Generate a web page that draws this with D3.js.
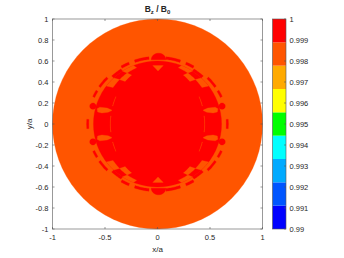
<!DOCTYPE html>
<html>
<head>
<meta charset="utf-8">
<script src="https://cdn.jsdelivr.net/npm/d3@7"></script>
<style>
body { margin: 0; background: #fff; }
text { font-family: "Liberation Sans", Arial, sans-serif; fill: #262626; }
</style>
</head>
<body>
<script>
// ---- data ----
var xTicks = [-1, -0.5, 0, 0.5, 1];
var yTicks = [-1, -0.8, -0.6, -0.4, -0.2, 0, 0.2, 0.4, 0.6, 0.8, 1];
var cbarTicks = [0.99, 0.991, 0.992, 0.993, 0.994, 0.995, 0.996, 0.997, 0.998, 0.999, 1];
var levelColors = ['#0000ff', '#0055ff', '#00aaff', '#00ffff', '#00ff00',
                   '#ffff00', '#ffaa00', '#ff5500', '#ff0000'];

// field value of each region
var valOuter = 0.9985;
var valInner = 0.9995;

// regions, in x/a , y/a units. ellipses are [rx, ry]
var diskR = 1;
var innerEllipse = [0.45, 0.555];
var midEllipse = [0.53, 0.578];
var ringEllipse = [0.61, 0.60];
var bumpEllipse = [0.64, 0.625];
// checker cells (upper-left quadrant, angle from top in degrees), mirrored 4 ways
var orangeInnerRow = [[33, 43]];
var orangeOuterRow = [[22, 33], [43, 53]];
var redBumps = [[33, 43]];
// dashed ring outside the red ring
var dashRing = [[0.655, 0.62], [0.675, 0.645]];
var dashArcs = [[7, 19], [24, 31], [46, 56], [60, 66], [86, 90]];
// orange dashes on the inner ellipse edge
var innerDashRing = [[0.435, 0.545], [0.45, 0.555]];
var innerDashArcs = [[62, 72], [82, 90]];
// orange tongues and red knobs on the sides (upper-left copy)
var tongue = [[-0.43, 0.13], [-0.48, 0.152], [-0.55, 0.16], [-0.575, 0.145],
              [-0.57, 0.115], [-0.53, 0.105], [-0.47, 0.112]];
var knob = [-0.615, 0.17, 0.03];
// top dome and notch (upper copy, mirrored in y)
var dome = [0.01, 0.612, 0.07, 0.062];
var notch = [[-0.045, 0.556], [0.055, 0.556], [0.005, 0.505]];

// ---- drawing ----
var W = 344, H = 258;
var svg = d3.select('body').append('svg').attr('width', W).attr('height', H);

var x = d3.scaleLinear().domain([-1, 1]).range([52.5, 262.5]);
var y = d3.scaleLinear().domain([-1, 1]).range([229, 19]);
var color = d3.scaleQuantize().domain([0.99, 1]).range(levelColors);
var line = d3.line().x(function(d) { return x(d[0]); }).y(function(d) { return y(d[1]); }).curve(d3.curveLinearClosed);

function rad(a) { return a * Math.PI / 180; }

// ring cell between two ellipses, angles from top in upper-left quadrant
function cell(eA, eB, p0, p1) {
  var pts = [], n = 12, i, p;
  for (i = 0; i <= n; i++) {
    p = rad(p0 + (p1 - p0) * i / n);
    pts.push([-eA[0] * Math.sin(p), eA[1] * Math.cos(p)]);
  }
  for (i = n; i >= 0; i--) {
    p = rad(p0 + (p1 - p0) * i / n);
    pts.push([-eB[0] * Math.sin(p), eB[1] * Math.cos(p)]);
  }
  return pts;
}
function mirror4(pts) {
  return [pts,
    pts.map(function(d) { return [-d[0], d[1]]; }),
    pts.map(function(d) { return [d[0], -d[1]]; }),
    pts.map(function(d) { return [-d[0], -d[1]]; })];
}
function ellipsePts(cx, cy, rx, ry) {
  var pts = [];
  for (var i = 0; i < 72; i++) {
    var a = rad(i * 5);
    pts.push([cx + rx * Math.cos(a), cy + ry * Math.sin(a)]);
  }
  return pts;
}
function drawPolys(list, val) {
  svg.append('g').selectAll('path').data(list).join('path')
    .attr('d', line)
    .attr('fill', color(val))
    .attr('stroke', color(val))
    .attr('stroke-width', 0.3);
}

// disk
drawPolys([ellipsePts(0, 0, diskR, diskR)], valOuter);
// red ring and inner ellipse
drawPolys([ellipsePts(0, 0, ringEllipse[0], ringEllipse[1])], valInner);
// checker cut-outs
var cutouts = [];
orangeInnerRow.forEach(function(a) { cutouts = cutouts.concat(mirror4(cell(innerEllipse, midEllipse, a[0], a[1]))); });
orangeOuterRow.forEach(function(a) { cutouts = cutouts.concat(mirror4(cell(midEllipse, ringEllipse, a[0], a[1]))); });
innerDashArcs.forEach(function(a) { cutouts = cutouts.concat(mirror4(cell(innerDashRing[0], innerDashRing[1], a[0], a[1]))); });
cutouts = cutouts.concat(mirror4(tongue));
drawPolys(cutouts, valOuter);
// red inner core on top of checker
drawPolys([ellipsePts(0, 0, innerEllipse[0] - 0.005, innerEllipse[1] - 0.005)], valInner);
// red dashes, bumps, knobs, domes
var reds = [];
dashArcs.forEach(function(a) { reds = reds.concat(mirror4(cell(dashRing[0], dashRing[1], a[0], a[1]))); });
redBumps.forEach(function(a) { reds = reds.concat(mirror4(cell(ringEllipse, bumpEllipse, a[0], a[1]))); });
reds = reds.concat(mirror4(ellipsePts(knob[0], knob[1], knob[2], knob[2])));
var domePts = [];
for (var i = 0; i <= 18; i++) {
  var a = rad(i * 10);
  domePts.push([dome[0] + dome[2] * Math.cos(a), dome[1] + dome[3] * Math.sin(a)]);
}
reds.push(domePts, domePts.map(function(d) { return [d[0], -d[1]]; }));
drawPolys(reds, valInner);
drawPolys([notch, notch.map(function(d) { return [d[0], -d[1]]; })], valOuter);

// axes box
var axisCol = '#555';
svg.append('rect')
  .attr('x', x(-1)).attr('y', y(1))
  .attr('width', x(1) - x(-1)).attr('height', y(-1) - y(1))
  .attr('fill', 'none').attr('stroke', axisCol).attr('stroke-width', 0.6);

svg.append('g').selectAll('line').data(xTicks).join('line')
  .attr('x1', function(d) { return x(d); }).attr('x2', function(d) { return x(d); })
  .attr('y1', y(-1)).attr('y2', y(-1) - 2).attr('stroke', axisCol).attr('stroke-width', 0.6);
svg.append('g').selectAll('line').data(xTicks).join('line')
  .attr('x1', function(d) { return x(d); }).attr('x2', function(d) { return x(d); })
  .attr('y1', y(1)).attr('y2', y(1) + 2).attr('stroke', axisCol).attr('stroke-width', 0.6);
svg.append('g').selectAll('line').data(yTicks).join('line')
  .attr('y1', function(d) { return y(d); }).attr('y2', function(d) { return y(d); })
  .attr('x1', x(-1)).attr('x2', x(-1) + 2).attr('stroke', axisCol).attr('stroke-width', 0.6);
svg.append('g').selectAll('line').data(yTicks).join('line')
  .attr('y1', function(d) { return y(d); }).attr('y2', function(d) { return y(d); })
  .attr('x1', x(1)).attr('x2', x(1) - 2).attr('stroke', axisCol).attr('stroke-width', 0.6);

svg.append('g').selectAll('text').data(xTicks).join('text')
  .attr('x', function(d) { return x(d); }).attr('y', 240)
  .attr('text-anchor', 'middle').attr('font-size', 7.5)
  .text(function(d) { return d; });
svg.append('g').selectAll('text').data(yTicks).join('text')
  .attr('x', 48.5).attr('y', function(d) { return y(d) + 2.6; })
  .attr('text-anchor', 'end').attr('font-size', 7.5)
  .text(function(d) { return d; });

svg.append('text').attr('x', x(0)).attr('y', 252)
  .attr('text-anchor', 'middle').attr('font-size', 8).text('x/a');
svg.append('text').attr('transform', 'translate(32,' + y(0) + ') rotate(-90)')
  .attr('text-anchor', 'middle').attr('font-size', 8).text('y/a');

// title
var title = svg.append('text').attr('x', x(0)).attr('y', 12)
  .attr('text-anchor', 'middle').attr('font-size', 8.5).attr('font-weight', 'bold');
title.append('tspan').text('B');
title.append('tspan').attr('font-size', 6).attr('dy', 1.8).text('z');
title.append('tspan').attr('dy', -1.8).text(' / B');
title.append('tspan').attr('font-size', 6).attr('dy', 1.8).text('0');

// colorbar
var cy = d3.scaleLinear().domain([0.99, 1]).range([229, 19]);
var cbX = 272.5, cbW = 13.5;
var step = (1 - 0.99) / levelColors.length;
svg.append('g').selectAll('rect').data(levelColors).join('rect')
  .attr('x', cbX).attr('width', cbW)
  .attr('y', function(d, i) { return cy(0.99 + step * (i + 1)); })
  .attr('height', function(d, i) { return cy(0.99 + step * i) - cy(0.99 + step * (i + 1)); })
  .attr('fill', function(d) { return d; });
svg.append('rect').attr('x', cbX).attr('y', cy(1)).attr('width', cbW).attr('height', cy(0.99) - cy(1))
  .attr('fill', 'none').attr('stroke', axisCol).attr('stroke-width', 0.6);
svg.append('g').selectAll('line').data(cbarTicks).join('line')
  .attr('x1', cbX + cbW).attr('x2', cbX + cbW - 2)
  .attr('y1', function(d) { return cy(d); }).attr('y2', function(d) { return cy(d); })
  .attr('stroke', axisCol).attr('stroke-width', 0.6);
svg.append('g').selectAll('text').data(cbarTicks).join('text')
  .attr('x', 289.5).attr('y', function(d) { return cy(d) + 2.6; })
  .attr('font-size', 7.5)
  .text(function(d) { return d3.format('~g')(d); });
</script>
</body>
</html>
